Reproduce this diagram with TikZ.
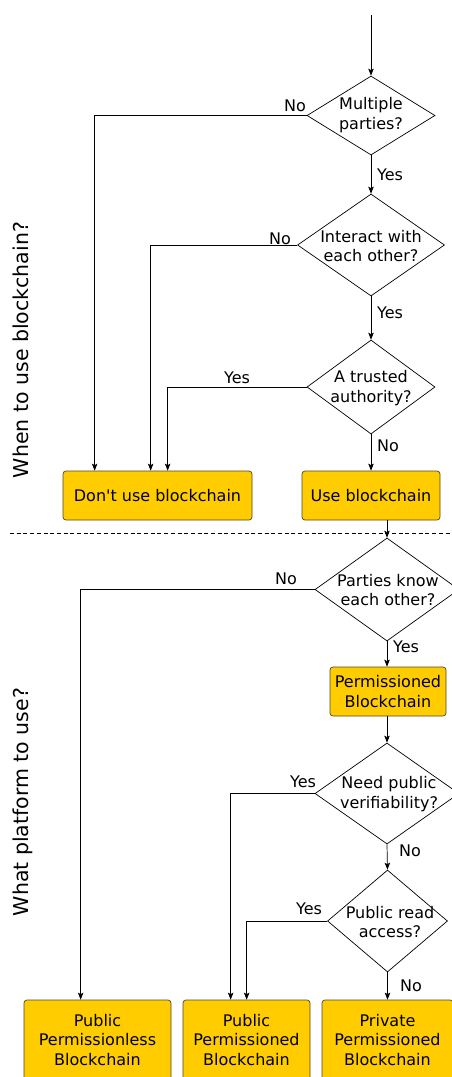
\documentclass[tikz,border=0pt]{standalone}
\usepackage{fontspec}
\setmainfont{DejaVu Sans}
\usetikzlibrary{shapes.geometric,arrows.meta,calc}
\definecolor{boxyellow}{RGB}{255,204,0}
\definecolor{boxborder}{RGB}{80,70,40}
\newcommand\txtfont{\fontsize{16}{19.5}\selectfont}
\newcommand\sidefont{\fontsize{20.5}{24}\selectfont}
\begin{document}
\begin{tikzpicture}[x=1pt,y=-1pt,
  dia/.style={diamond, draw=black, line width=0.7pt, inner sep=0pt},
  qtext/.style={align=center, font=\txtfont, inner sep=0pt},
  boxnode/.style={draw=boxborder, fill=boxyellow, rounded corners=3pt, line width=0.7pt, align=center, font=\txtfont, inner sep=0pt},
  lbl/.style={font=\txtfont, inner sep=0pt},
  side/.style={font=\sidefont, rotate=90, anchor=base, inner sep=0pt},
  conn/.style={line width=0.7pt},
  arr/.style={conn, -{Stealth[length=7pt,width=5.5pt,inset=1.5pt]}}]
\clip (0,0) rectangle (452,1077);
\fill[white] (0,0) rectangle (452,1077);

% side labels
\node[side] (s1) at (28,350) {When to use blockchain?};
\node[side] (s2) at (28,802) {What platform to use?};

% separator
\coordinate (sepL) at (10,533);
\coordinate (sepR) at (452,533);
\draw[line width=0.6pt, dash pattern=on 4pt off 2.7pt] (sepL) -- (sepR);

% diamonds
\node[dia, minimum width=128pt, minimum height=79pt] (d1) at (371,115.5) {};
\node[qtext] (t1) at (371,115) {Multiple\\parties?};
\node[dia, minimum width=147pt, minimum height=102pt] (d2) at (371,245) {};
\node[qtext] (t2) at (371,246) {Interact with\\each other?};
\node[dia, minimum width=128pt, minimum height=94pt] (d3) at (371,387) {};
\node[qtext] (t3) at (371,388) {A trusted\\authority?};
\node[dia, minimum width=144pt, minimum height=103pt] (d4) at (387,589.5) {};
\node[qtext] (t4) at (388,590) {Parties know\\each other?};
\node[dia, minimum width=144pt, minimum height=101pt] (d5) at (387,793.5) {};
\node[qtext] (t5) at (389,794) {Need public\\verifiability?};
\node[dia, minimum width=120pt, minimum height=102pt] (d6) at (387.5,921) {};
\node[qtext] (t6) at (390,922) {Public read\\access?};

% boxes
\node[boxnode, minimum width=189pt, minimum height=49pt] (dont) at (157.5,495.5) {Don\textquotesingle t use blockchain};
\node[boxnode, minimum width=138pt, minimum height=49pt] (use) at (371,495.5) {Use blockchain};
\node[boxnode, minimum width=116pt, minimum height=49pt] (perm) at (388,691.5) {Permissioned\\Blockchain};
\node[boxnode, minimum width=147pt, minimum height=80pt] (p1) at (97.5,1040) {Public\\Permissionless\\Blockchain};
\node[boxnode, minimum width=127pt, minimum height=80pt] (p2) at (246.5,1040) {Public\\Permissioned\\Blockchain};
\node[boxnode, minimum width=131pt, minimum height=80pt] (p3) at (387.5,1040) {Private\\Permissioned\\Blockchain};

% connectors
\coordinate (start) at (371,15);
\draw[arr] (start) -- (d1.north);
\draw[arr] (d1.south) -- (d2.north);
\draw[arr] (d2.south) -- (d3.north);
\draw[arr] (d3.south) -- (d3.south |- use.north);
\draw[arr] (d1.west) -| ([xshift=32pt]dont.north west);
\draw[arr] (d2.west) -| ([xshift=88pt]dont.north west);
\draw[arr] (d3.west) -| ([xshift=105pt]dont.north west);
\draw[arr] (use.south -| d4.north) -- (d4.north);
\draw[arr] (d4.west) -| ([xshift=57pt]p1.north west);
\draw[arr] (d4.south) -- (d4.south |- perm.north);
\draw[arr] (perm.south -| d5.north) -- (d5.north);
\draw[arr] (d5.west) -| ([xshift=48pt]p2.north west);
\draw[arr] (d5.south) -- (d6.north);
\draw[arr] (d6.west) -| ([xshift=64pt]p2.north west);
\draw[arr] (d6.south) -- (d6.south |- p3.north);

% labels
\node[lbl] (l1) at (295,106) {No};
\node[lbl] (l2) at (390,175) {Yes};
\node[lbl] (l3) at (280,239) {No};
\node[lbl] (l4) at (390,313) {Yes};
\node[lbl] (l5) at (237,378) {Yes};
\node[lbl] (l6) at (388,446) {No};
\node[lbl] (l7) at (286,579) {No};
\node[lbl] (l8) at (406,647) {Yes};
\node[lbl] (l9) at (303,782) {Yes};
\node[lbl] (l10) at (410,851) {No};
\node[lbl] (l11) at (309,909) {Yes};
\node[lbl] (l12) at (411,986) {No};
\end{tikzpicture}
\end{document}
